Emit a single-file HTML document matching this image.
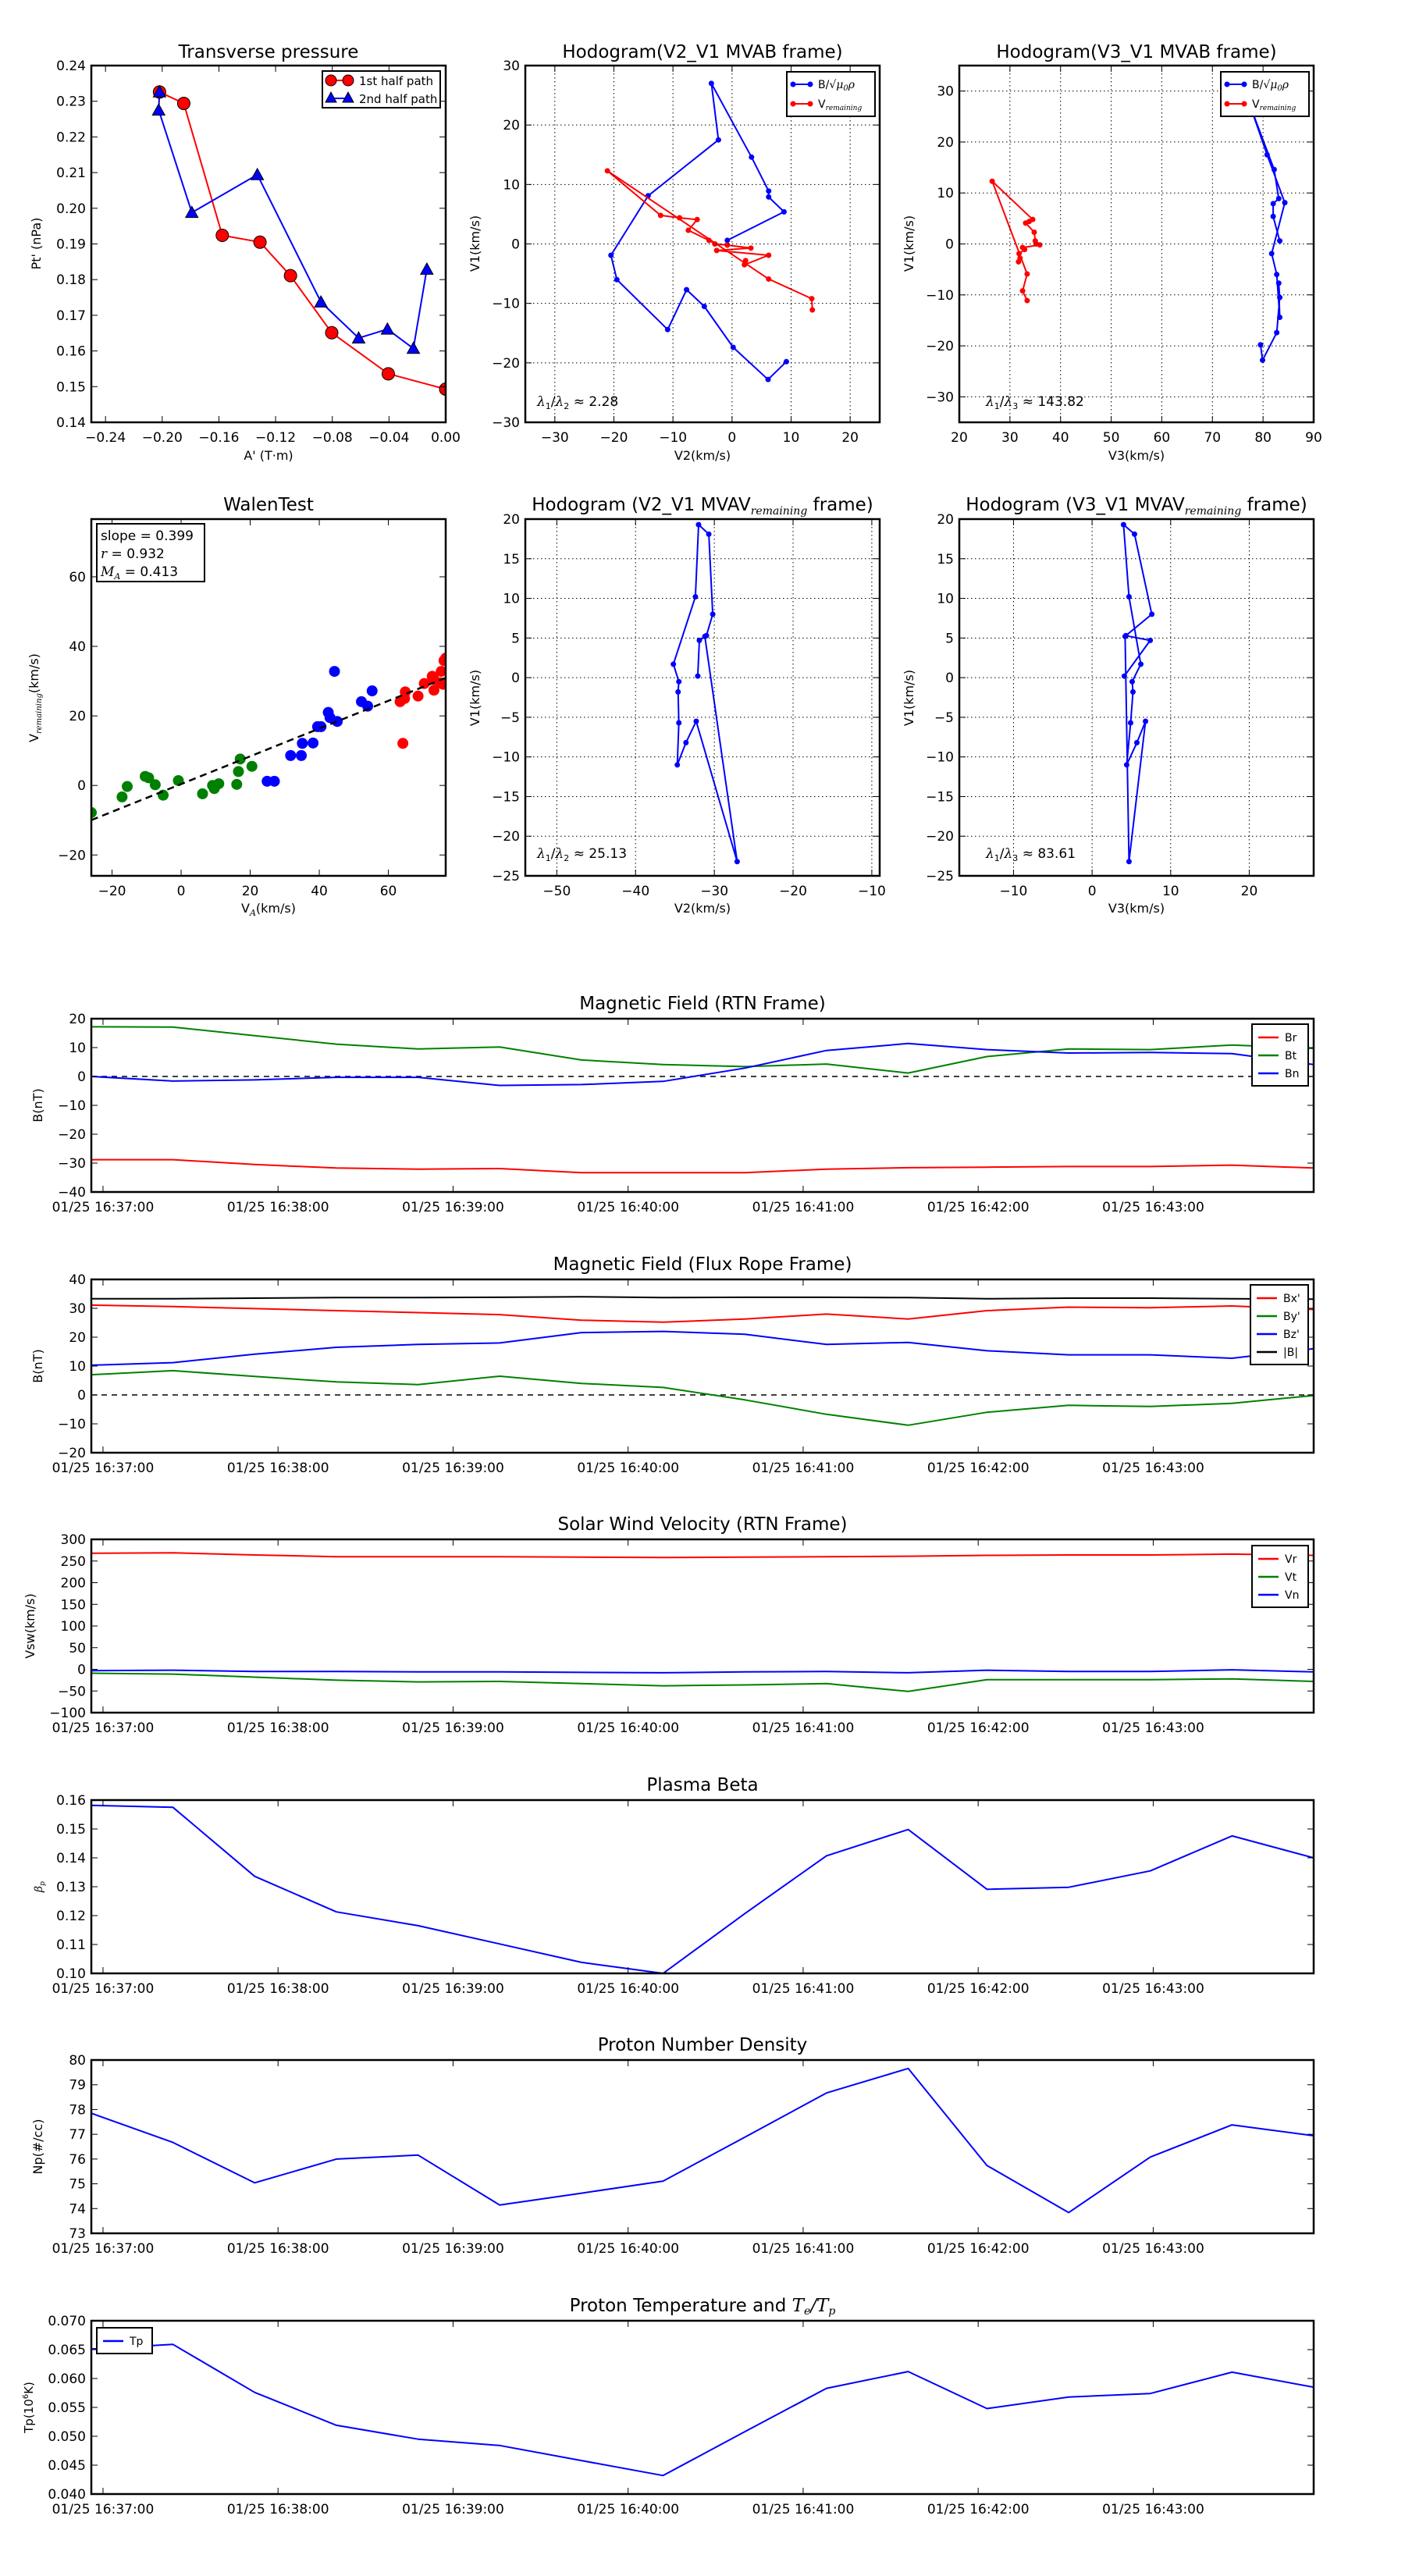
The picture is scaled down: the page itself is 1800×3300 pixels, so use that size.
<!DOCTYPE html>
<html><head><meta charset="utf-8"><style>
html,body{margin:0;padding:0;background:#fff;}
svg{display:block;}
text{font-family:"DejaVu Sans","Liberation Sans",sans-serif;}
</style></head>
<body>
<svg id="fig" xmlns="http://www.w3.org/2000/svg" width="1800" height="3300" viewBox="0 0 1800 3300"></svg>
<script>
// ---------- data ----------
const tpRedA = [-0.2019,-0.1848,-0.1576,-0.131,-0.1095,-0.0804,-0.0405,0];
const tpRedP = [0.2326,0.2294,0.1924,0.1905,0.1811,0.1651,0.1536,0.1493];
const tpBlueA = [-0.2019,-0.2025,-0.1791,-0.1329,-0.088,-0.0614,-0.0411,-0.0228,-0.0133];
const tpBlueP = [0.2326,0.2275,0.1988,0.2094,0.1737,0.1636,0.1661,0.1607,0.1829];

const h1BV2 = [-0.8,8.8,6.2,6.2,3.3,-3.5,-2.3,-14.2,-20.5,-19.5,-10.9,-7.7,-4.7,0.2,6.1,9.2];
const h1BV1 = [0.6,5.4,7.9,8.9,14.6,27,17.5,8.1,-1.9,-6,-14.4,-7.7,-10.5,-17.4,-22.8,-19.8];
const h1RV2 = [13.6,13.5,6.2,-21.1,-12.1,-8.9,-5.9,-7.4,-3.9,-2.9,-0.8,3.2,-2.6,6.2,2.1,2.3];
const h1RV1 = [-11.1,-9.2,-5.9,12.3,4.8,4.4,4.1,2.3,0.6,0,-0.2,-0.7,-1.1,-1.9,-3.5,-2.8];

const h2BV3 = [83.3,82,82,83.1,82.2,77.5,80.8,84.3,81.7,82.7,83.3,83.1,83.3,82.7,79.9,79.5];
const h2BV1 = [0.6,5.4,7.9,8.9,14.6,27,17.5,8.1,-1.9,-6,-14.4,-7.7,-10.5,-17.4,-22.8,-19.8];
const h2RV3 = [33.4,32.5,33.4,26.5,34.5,33.8,33.1,34.8,35,35.2,35.9,32.5,32.9,31.8,31.7,32.0];
const h2RV1 = [-11.1,-9.2,-5.9,12.3,4.8,4.4,4.1,2.3,0.6,0,-0.2,-0.7,-1.1,-1.9,-3.5,-2.8];

const h3V2 = [-32.1,-31.9,-31,-30.2,-30.7,-32,-32.4,-35.2,-34.5,-34.6,-34.5,-34.7,-33.6,-32.3,-27.1,-31.2];
const h3V1 = [0.2,4.7,5.3,8,18.1,19.3,10.2,1.7,-0.5,-1.8,-5.7,-11,-8.2,-5.5,-23.2,5.2];
const h4V3 = [4.1,7.4,4.3,7.6,5.4,4,4.7,6.2,5.1,5.2,4.9,4.4,5.7,6.8,4.7,4.2];
const h4V1 = [0.2,4.7,5.3,8,18.1,19.3,10.2,1.7,-0.5,-1.8,-5.7,-11,-8.2,-5.5,-23.2,5.2];

const walGreenX = [-26,-17.1,-15.6,-10.4,-9.4,-7.5,-5.2,-0.8,6.2,9.1,9.6,10.9,16.1,16.6,17.1,20.5];
const walGreenY = [-7.8,-3.3,-0.3,2.6,2.2,0.2,-2.8,1.4,-2.4,0,-0.9,0.5,0.3,4,7.6,5.5];
const walBlueX = [24.9,27,31.7,34.8,35.1,38.2,39.5,40.5,42.6,43.1,44.4,45.2,52.2,54,55.3];
const walBlueY = [1.2,1.2,8.6,8.6,12.1,12.2,16.9,16.9,21,19.5,32.8,18.4,24.1,22.8,27.2];
const walRedX = [63.4,64.2,64.7,64.9,68.6,70.4,72.7,73.2,73.2,75.1,75.3,75.8,76.1,76.6];
const walRedY = [24.1,12.1,25,26.9,25.7,29.3,31.4,27.4,30.5,29.5,32.8,29.1,35.9,36.6];
const walSlope = 0.399;
const walIntercept = 0.4;

// seconds relative to 01/25 16:37:00
const times = [-4,24,52,80,108,136,164,192,220,248,276,303,331,359,387,415];
const timeTicks = [0,60,120,180,240,300,360];
const timeTickLabels = ["01/25 16:37:00","01/25 16:38:00","01/25 16:39:00","01/25 16:40:00","01/25 16:41:00","01/25 16:42:00","01/25 16:43:00"];

const Br = [-28.8,-28.8,-30.5,-31.7,-32.1,-31.9,-33.3,-33.3,-33.3,-32.1,-31.6,-31.4,-31.2,-31.2,-30.7,-31.7];
const Bt = [17.2,17.1,14.1,11.2,9.5,10.2,5.7,4.1,3.4,4.3,1.2,6.9,9.5,9.3,10.9,9.7];
const Bn = [0,-1.6,-1.2,-0.3,-0.3,-3.1,-2.8,-1.7,2.9,9,11.4,9.3,8.1,8.3,7.9,4.1];

const Bx1 = [31.1,30.6,29.9,29.2,28.5,27.8,25.9,25.2,26.3,28,26.3,29.2,30.4,30.2,30.8,29.6];
const By1 = [7,8.4,6.4,4.5,3.6,6.5,4,2.6,-1.7,-6.7,-10.5,-6,-3.6,-4,-2.9,-0.2];
const Bz1 = [10.3,11.2,14.1,16.5,17.5,18,21.6,22,21,17.5,18.2,15.3,13.9,13.9,12.7,16];
const Bmag = [33.3,33.3,33.5,33.7,33.7,33.8,34,33.7,33.8,33.8,33.7,33.3,33.5,33.5,33.3,33.2];

const Vr = [268,269,264,260,260,260,259,258,259,260,261,263,264,264,266,263];
const Vt = [-9,-11,-18,-25,-29,-28,-33,-38,-36,-33,-51,-24,-24,-24,-22,-28];
const Vn = [-3,-2,-5,-5,-6,-6,-7,-8,-6,-5,-8,-2,-5,-5,-1,-6];

const beta = [0.1582,0.1575,0.1336,0.1213,0.1165,0.1102,0.1038,0.1,0.1207,0.1407,0.1498,0.1291,0.1298,0.1355,0.1476,0.1400];
const Np = [77.85,76.67,75.04,76,76.16,74.14,74.62,75.11,76.88,78.67,79.66,75.74,73.84,76.08,77.38,76.94];
const Tp = [0.0651,0.0659,0.0576,0.0519,0.0495,0.0484,0.0458,0.0432,0.0508,0.0583,0.0612,0.0548,0.0568,0.0574,0.0611,0.0585];

// ---------- helpers ----------
const NS = "http://www.w3.org/2000/svg";
const root = document.getElementById('fig');
let clipId = 0;
function mk(tag, attrs, parent, name) {
  const e = document.createElementNS(NS, tag);
  for (const k in attrs) e.setAttribute(k, attrs[k]);
  
  
  (parent || root).appendChild(e);
  return e;
}
function txt(s, x, y, size, anchor, parent, name, extra) {
  const a = Object.assign({x:x, y:y, 'font-size':size, 'text-anchor':anchor||'middle', fill:'#000'}, extra||{});
  const t = mk('text', a, parent, name);
  t.textContent = s;
  return t;
}
function fmtMinus(s){ return String(s).replace('-', '\u2212'); }

function axes(name, box, xlim, ylim, xticks, yticks, xlabels, ylabels, grid) {
  const g = mk('g', {}, root, name);
  const sx = v => box.x + (v - xlim[0]) / (xlim[1] - xlim[0]) * box.w;
  const sy = v => box.y + box.h - (v - ylim[0]) / (ylim[1] - ylim[0]) * box.h;
  clipId++;
  const cp = mk('clipPath', {id:'c'+clipId}, g, name + '-clip');
  mk('rect', {x:box.x, y:box.y, width:box.w, height:box.h}, cp, name + '-clip-rect');
  const data = mk('g', {'clip-path':'url(#c'+clipId+')'}, g, name + '-plot-area');
  const tk = mk('g', {stroke:'#000','stroke-width':1}, g, name + '-ticks');
  xticks.forEach((v, i) => {
    const x = sx(v);
    if (grid) mk('line', {x1:x, x2:x, y1:box.y, y2:box.y+box.h, stroke:'#000','stroke-width':1,'stroke-dasharray':'1.5,3.5'}, tk, name + '-xgrid');
    mk('line', {x1:x, x2:x, y1:box.y+box.h, y2:box.y+box.h-8}, tk, name + '-xtick');
    mk('line', {x1:x, x2:x, y1:box.y, y2:box.y+8}, tk, name + '-xtick-top');
    txt(xlabels[i], x, box.y + box.h + 25, 17, 'middle', g, name + '-xtick-label', {});
  });
  yticks.forEach((v, i) => {
    const y = sy(v);
    if (grid) mk('line', {x1:box.x, x2:box.x+box.w, y1:y, y2:y, stroke:'#000','stroke-width':1,'stroke-dasharray':'1.5,3.5'}, tk, name + '-ygrid');
    mk('line', {x1:box.x, x2:box.x+8, y1:y, y2:y}, tk, name + '-ytick');
    mk('line', {x1:box.x+box.w, x2:box.x+box.w-8, y1:y, y2:y}, tk, name + '-ytick-right');
    txt(ylabels[i], box.x - 7, y + 6, 17, 'end', g, name + '-ytick-label', {});
  });
  return {g, data, sx, sy, box, name};
}
function frame(ax) {
  mk('rect', {x:ax.box.x, y:ax.box.y, width:ax.box.w, height:ax.box.h, fill:'none', stroke:'#000','stroke-width':2.5}, ax.g, ax.name + '-frame');
}
function line(ax, xs, ys, color, name, w, dash) {
  const pts = xs.map((x, i) => ax.sx(x).toFixed(1) + ',' + ax.sy(ys[i]).toFixed(1)).join(' ');
  const a = {points:pts, fill:'none', stroke:color, 'stroke-width':w||2, 'stroke-linejoin':'round'};
  if (dash) a['stroke-dasharray'] = dash;
  return mk('polyline', a, ax.data, name);
}
function dots(ax, xs, ys, color, r, name, stroke) {
  xs.forEach((x, i) => {
    const a = {cx:ax.sx(x), cy:ax.sy(ys[i]), r:r, fill:color};
    if (stroke) { a.stroke = '#000'; a['stroke-width'] = 1; }
    mk('circle', a, ax.data, name);
  });
}
function tris(ax, xs, ys, color, s, name) {
  xs.forEach((x, i) => {
    const cx = ax.sx(x), cy = ax.sy(ys[i]);
    mk('polygon', {points:`${cx},${cy-s} ${cx-s},${cy+s*0.8} ${cx+s},${cy+s*0.8}`, fill:color, stroke:'#000','stroke-width':1}, ax.data, name);
  });
}
function title(s, x, y, name) { return txt(s, x, y, 23, 'middle', root, name, {}); }
function ylab(s, x, y, name) {
  const t = txt(s, x, y, 16, 'middle', root, name, {transform:`rotate(-90 ${x} ${y})`});
  return t;
}
function range(a, b, st) { const r = []; for (let v = a; v <= b + 1e-9; v += st) r.push(+v.toFixed(6)); return r; }
function labs(arr, d) { return arr.map(v => fmtMinus(v.toFixed(d))); }

// ---------- Transverse pressure ----------
(function(){
  const xt = range(-0.24, 0, 0.04), yt = range(0.14, 0.24, 0.01);
  const ax = axes('transverse-pressure-chart', {x:117,y:84,w:454,h:457}, [-0.25,0], [0.14,0.24], xt, yt, labs(xt,2), labs(yt,2), false);
  line(ax, tpRedA, tpRedP, '#ff0000', 'first-half-path-line', 2);
  line(ax, tpBlueA, tpBlueP, '#0000ff', 'second-half-path-line', 2);
  dots(ax, tpRedA, tpRedP, '#ff0000', 8, 'first-half-path-marker', true);
  tris(ax, tpBlueA, tpBlueP, '#0000ff', 8, 'second-half-path-marker');
  frame(ax);
  title('Transverse pressure', 344, 74, 'transverse-pressure-title');
  txt("A' (T\u00b7m)", 344, 589, 16, 'middle', root, 'transverse-x-axis-title', {});
  ylab("Pt' (nPa)", 52, 312, 'transverse-y-axis-title');
  const lg = mk('g', {}, root, 'transverse-legend');
  mk('rect', {x:413,y:91,width:151,height:47,fill:'#fff',stroke:'#000','stroke-width':2}, lg, 'legend-box');
  mk('line', {x1:424,x2:446,y1:103,y2:103,stroke:'#f00','stroke-width':2}, lg, 'legend-line-red');
  mk('circle', {cx:424,cy:103,r:7,fill:'#f00',stroke:'#000'}, lg, 'legend-marker-red');
  mk('circle', {cx:446,cy:103,r:7,fill:'#f00',stroke:'#000'}, lg, 'legend-marker-red');
  txt('1st half path', 460, 109, 15, 'start', lg, 'legend-entry-first-half', {});
  mk('line', {x1:424,x2:446,y1:126,y2:126,stroke:'#00f','stroke-width':2}, lg, 'legend-line-blue');
  mk('polygon', {points:'424,118 417,131 431,131',fill:'#00f',stroke:'#000'}, lg, 'legend-marker-blue');
  mk('polygon', {points:'446,118 439,131 453,131',fill:'#00f',stroke:'#000'}, lg, 'legend-marker-blue');
  txt('2nd half path', 460, 132, 15, 'start', lg, 'legend-entry-second-half', {});
})();

function hodoLegend(x, y, name, bLabel) {
  const lg = mk('g', {}, root, name);
  mk('rect', {x:x,y:y,width:113,height:57,fill:'#fff',stroke:'#000','stroke-width':2}, lg, 'legend-box');
  mk('line', {x1:x+8,x2:x+30,y1:y+16,y2:y+16,stroke:'#00f','stroke-width':2}, lg, 'legend-line-blue');
  mk('circle', {cx:x+8,cy:y+16,r:3.5,fill:'#00f'}, lg, 'legend-dot');
  mk('circle', {cx:x+30,cy:y+16,r:3.5,fill:'#00f'}, lg, 'legend-dot');
  const t1 = txt('', x+40, y+21, 14, 'start', lg, 'legend-entry-b-alfven', {});
  t1.innerHTML = 'B/\u221a<tspan font-style="italic" font-family="DejaVu Serif">\u03bc<tspan font-size="10" dy="3">0</tspan><tspan dy="-3">\u03c1</tspan></tspan>';
  mk('line', {x1:x+8,x2:x+30,y1:y+41,y2:y+41,stroke:'#f00','stroke-width':2}, lg, 'legend-line-red');
  mk('circle', {cx:x+8,cy:y+41,r:3.5,fill:'#f00'}, lg, 'legend-dot');
  mk('circle', {cx:x+30,cy:y+41,r:3.5,fill:'#f00'}, lg, 'legend-dot');
  const t2 = txt('', x+40, y+46, 14, 'start', lg, 'legend-entry-v-remaining', {});
  t2.innerHTML = 'V<tspan font-size="9" dy="3" font-style="italic" font-family="DejaVu Serif">remaining</tspan>';
}
function ratioText(x, y, sub2, val, name) {
  const t = txt('', x, y, 17, 'start', root, name, {});
  t.innerHTML = '<tspan font-style="italic" font-family="DejaVu Serif">\u03bb</tspan><tspan font-size="11" dy="4">1</tspan><tspan dy="-4">/</tspan><tspan font-style="italic" font-family="DejaVu Serif">\u03bb</tspan><tspan font-size="11" dy="4">' + sub2 + '</tspan><tspan dy="-4"> \u2248 ' + val + '</tspan>';
}
function subTitle(x, y, pre, name) {
  const t = txt('', x, y, 23, 'middle', root, name, {});
  t.innerHTML = pre + '<tspan font-size="14" dy="5" font-style="italic" font-family="DejaVu Serif">remaining</tspan><tspan dy="-5"> frame)</tspan>';
}

// ---------- Hodogram V2-V1 MVAB ----------
(function(){
  const xt = range(-30, 20, 10), yt = range(-30, 30, 10);
  const ax = axes('hodogram-v2-v1-mvab', {x:673,y:84,w:454,h:457}, [-35,25], [-30,30], xt, yt, labs(xt,0), labs(yt,0), true);
  line(ax, h1BV2, h1BV1, '#0000ff', 'b-alfven-line', 2);
  dots(ax, h1BV2, h1BV1, '#0000ff', 3.5, 'b-alfven-point');
  line(ax, h1RV2, h1RV1, '#ff0000', 'v-remaining-line', 2);
  dots(ax, h1RV2, h1RV1, '#ff0000', 3.5, 'v-remaining-point');
  frame(ax);
  title('Hodogram(V2_V1 MVAB frame)', 900, 74, 'hodogram-mvab-v2-title');
  txt('V2(km/s)', 900, 589, 16, 'middle', root, 'hodogram-mvab-v2-x-title', {});
  ylab('V1(km/s)', 614, 312, 'hodogram-mvab-v2-y-title');
  hodoLegend(1008, 92, 'hodogram-mvab-v2-legend');
  ratioText(688, 520, '2', '2.28', 'eigen-ratio-label');
})();

// ---------- Hodogram V3-V1 MVAB ----------
(function(){
  const xt = range(20, 90, 10), yt = range(-30, 30, 10);
  const ax = axes('hodogram-v3-v1-mvab', {x:1229,y:84,w:454,h:457}, [20,90], [-35,35], xt, yt, labs(xt,0), labs(yt,0), true);
  line(ax, h2BV3, h2BV1, '#0000ff', 'b-alfven-line', 2);
  dots(ax, h2BV3, h2BV1, '#0000ff', 3.5, 'b-alfven-point');
  line(ax, h2RV3, h2RV1, '#ff0000', 'v-remaining-line', 2);
  dots(ax, h2RV3, h2RV1, '#ff0000', 3.5, 'v-remaining-point');
  frame(ax);
  title('Hodogram(V3_V1 MVAB frame)', 1456, 74, 'hodogram-mvab-v3-title');
  txt('V3(km/s)', 1456, 589, 16, 'middle', root, 'hodogram-mvab-v3-x-title', {});
  ylab('V1(km/s)', 1170, 312, 'hodogram-mvab-v3-y-title');
  hodoLegend(1564, 92, 'hodogram-mvab-v3-legend');
  ratioText(1263, 520, '3', '143.82', 'eigen-ratio-label');
})();

// ---------- Walen test ----------
(function(){
  const xt = range(-20, 60, 20), yt = range(-20, 60, 20);
  const ax = axes('walen-test-chart', {x:117,y:665,w:454,h:457}, [-26,76.6], [-26,76.6], xt, yt, labs(xt,0), labs(yt,0), false);
  dots(ax, walGreenX, walGreenY, '#008000', 7, 'walen-point-green');
  dots(ax, walBlueX, walBlueY, '#0000ff', 7, 'walen-point-blue');
  dots(ax, walRedX, walRedY, '#ff0000', 7, 'walen-point-red');
  const fx = [-26, 76.6];
  const fy = fx.map(v => walSlope * v + walIntercept);
  line(ax, fx, fy, '#000', 'walen-fit-line', 2.5, '9,6');
  frame(ax);
  title('WalenTest', 344, 654, 'walen-test-title');
  const xl = txt('', 344, 1169, 16, 'middle', root, 'walen-x-axis-title', {});
  xl.innerHTML = 'V<tspan font-size="11" dy="4" font-style="italic" font-family="DejaVu Serif">A</tspan><tspan dy="-4">(km/s)</tspan>';
  const yl = txt('', 49, 894, 16, 'middle', root, 'walen-y-axis-title', {transform:'rotate(-90 49 894)'});
  yl.innerHTML = 'V<tspan font-size="10" dy="4" font-style="italic" font-family="DejaVu Serif">remaining</tspan><tspan dy="-4">(km/s)</tspan>';
  const bx = mk('g', {}, root, 'walen-stats-box');
  mk('rect', {x:124,y:671,width:138,height:74,fill:'#fff',stroke:'#000','stroke-width':2}, bx, 'stats-box-frame');
  txt('slope = 0.399', 129, 692, 17, 'start', bx, 'slope-value', {});
  const r = txt('', 129, 715, 17, 'start', bx, 'correlation-value', {});
  r.innerHTML = '<tspan font-style="italic" font-family="DejaVu Serif">r</tspan> = 0.932';
  const m = txt('', 129, 738, 17, 'start', bx, 'mach-number-value', {});
  m.innerHTML = '<tspan font-style="italic" font-family="DejaVu Serif">M</tspan><tspan font-size="11" dy="4" font-style="italic" font-family="DejaVu Serif">A</tspan><tspan dy="-4"> = 0.413</tspan>';
})();

// ---------- Hodogram V2-V1 MVAV ----------
(function(){
  const xt = range(-50, -10, 10), yt = range(-25, 20, 5);
  const ax = axes('hodogram-v2-v1-mvav', {x:673,y:665,w:454,h:457}, [-54,-9], [-25,20], xt, yt, labs(xt,0), labs(yt,0), true);
  line(ax, h3V2, h3V1, '#0000ff', 'mvav-v2-line', 2);
  dots(ax, h3V2, h3V1, '#0000ff', 3.5, 'mvav-v2-point');
  frame(ax);
  subTitle(900, 654, 'Hodogram (V2_V1 MVAV', 'hodogram-mvav-v2-title');
  txt('V2(km/s)', 900, 1169, 16, 'middle', root, 'hodogram-mvav-v2-x-title', {});
  ylab('V1(km/s)', 614, 894, 'hodogram-mvav-v2-y-title');
  ratioText(688, 1099, '2', '25.13', 'eigen-ratio-label');
})();

// ---------- Hodogram V3-V1 MVAV ----------
(function(){
  const xt = range(-10, 20, 10), yt = range(-25, 20, 5);
  const ax = axes('hodogram-v3-v1-mvav', {x:1229,y:665,w:454,h:457}, [-16.9,28.2], [-25,20], xt, yt, labs(xt,0), labs(yt,0), true);
  line(ax, h4V3, h4V1, '#0000ff', 'mvav-v3-line', 2);
  dots(ax, h4V3, h4V1, '#0000ff', 3.5, 'mvav-v3-point');
  frame(ax);
  subTitle(1456, 654, 'Hodogram (V3_V1 MVAV', 'hodogram-mvav-v3-title');
  txt('V3(km/s)', 1456, 1169, 16, 'middle', root, 'hodogram-mvav-v3-x-title', {});
  ylab('V1(km/s)', 1170, 894, 'hodogram-mvav-v3-y-title');
  ratioText(1263, 1099, '3', '83.61', 'eigen-ratio-label');
})();

// ---------- time series ----------
function tsAxes(name, top, ylim, yt, dec) {
  return axes(name, {x:117,y:top,w:1566,h:222}, [times[0], times[times.length-1]], ylim, timeTicks, yt, timeTickLabels, labs(yt, dec), false);
}
function tsLegend(x, y, w, entries, name) {
  const lg = mk('g', {}, root, name);
  mk('rect', {x:x,y:y,width:w,height:entries.length*23+10,fill:'#fff',stroke:'#000','stroke-width':2}, lg, 'legend-box');
  entries.forEach((e, i) => {
    const yy = y + 17 + i*23;
    mk('line', {x1:x+8,x2:x+34,y1:yy,y2:yy,stroke:e[1],'stroke-width':2.5}, lg, 'legend-swatch');
    txt(e[0], x+42, yy+5, 14, 'start', lg, 'legend-entry', {});
  });
}
(function(){
  const top = 1305, yt = range(-40, 20, 10);
  const ax = tsAxes('magnetic-field-rtn-chart', top, [-40,20], yt, 0);
  line(ax, [times[0], times[15]], [0,0], '#000', 'zero-reference-line', 1.5, '7,6');
  line(ax, times, Br, '#ff0000', 'br-line');
  line(ax, times, Bt, '#008000', 'bt-line');
  line(ax, times, Bn, '#0000ff', 'bn-line');
  frame(ax);
  title('Magnetic Field (RTN Frame)', 900, top-12, 'magnetic-field-rtn-title');
  ylab('B(nT)', 54, top+111, 'magnetic-field-rtn-y-title');
  tsLegend(1604, 1312, 72, [['Br','#f00'],['Bt','#008000'],['Bn','#00f']], 'magnetic-field-rtn-legend');
})();
(function(){
  const top = 1639, yt = range(-20, 40, 10);
  const ax = tsAxes('magnetic-field-flux-rope-chart', top, [-20,40], yt, 0);
  line(ax, [times[0], times[15]], [0,0], '#000', 'zero-reference-line', 1.5, '7,6');
  line(ax, times, Bmag, '#000000', 'bmag-line');
  line(ax, times, Bx1, '#ff0000', 'bx-line');
  line(ax, times, By1, '#008000', 'by-line');
  line(ax, times, Bz1, '#0000ff', 'bz-line');
  frame(ax);
  title('Magnetic Field (Flux Rope Frame)', 900, top-12, 'magnetic-field-flux-rope-title');
  ylab('B(nT)', 54, top+111, 'magnetic-field-flux-rope-y-title');
  tsLegend(1602, 1646, 74, [["Bx'",'#f00'],["By'",'#008000'],["Bz'",'#00f'],['|B|','#000']], 'magnetic-field-flux-rope-legend');
})();
(function(){
  const top = 1972, yt = range(-100, 300, 50);
  const ax = tsAxes('solar-wind-velocity-chart', top, [-100,300], yt, 0);
  line(ax, times, Vr, '#ff0000', 'vr-line');
  line(ax, times, Vt, '#008000', 'vt-line');
  line(ax, times, Vn, '#0000ff', 'vn-line');
  frame(ax);
  title('Solar Wind Velocity (RTN Frame)', 900, top-12, 'solar-wind-velocity-title');
  ylab('Vsw(km/s)', 44, top+111, 'solar-wind-velocity-y-title');
  tsLegend(1604, 1980, 72, [['Vr','#f00'],['Vt','#008000'],['Vn','#00f']], 'solar-wind-velocity-legend');
})();
(function(){
  const top = 2306, yt = range(0.10, 0.16, 0.01);
  const ax = tsAxes('plasma-beta-chart', top, [0.10,0.16], yt, 2);
  line(ax, times, beta, '#0000ff', 'plasma-beta-line');
  frame(ax);
  title('Plasma Beta', 900, top-12, 'plasma-beta-title');
  const t = txt('', 54, top+111, 14, 'middle', root, 'plasma-beta-y-title', {transform:`rotate(-90 54 ${top+111})`});
  t.innerHTML = '<tspan font-style="italic" font-family="DejaVu Serif">\u03b2</tspan><tspan font-size="9" dy="3" font-style="italic" font-family="DejaVu Serif">p</tspan>';
})();
(function(){
  const top = 2639, yt = range(73, 80, 1);
  const ax = tsAxes('proton-density-chart', top, [73,80], yt, 0);
  line(ax, times, Np, '#0000ff', 'proton-density-line');
  frame(ax);
  title('Proton Number Density', 900, top-12, 'proton-density-title');
  ylab('Np(#/cc)', 54, top+111, 'proton-density-y-title');
})();
(function(){
  const top = 2973, yt = range(0.040, 0.070, 0.005);
  const ax = tsAxes('proton-temperature-chart', top, [0.040,0.070], yt, 3);
  line(ax, times, Tp, '#0000ff', 'proton-temperature-line');
  frame(ax);
  const t = txt('', 900, top-12, 23, 'middle', root, 'proton-temperature-title', {});
  t.innerHTML = 'Proton Temperature and <tspan font-style="italic" font-family="DejaVu Serif">T</tspan><tspan font-size="14" dy="4" font-style="italic" font-family="DejaVu Serif">e</tspan><tspan dy="-4" font-style="italic" font-family="DejaVu Serif">/T</tspan><tspan font-size="14" dy="4" font-style="italic" font-family="DejaVu Serif">p</tspan>';
  const yl = txt('', 42, top+111, 15, 'middle', root, 'proton-temperature-y-title', {transform:`rotate(-90 42 ${top+111})`});
  yl.innerHTML = 'Tp(10<tspan font-size="10" dy="-6">6</tspan><tspan dy="6">K)</tspan>';
  tsLegend(124, 2982, 71, [['Tp','#00f']], 'proton-temperature-legend');
})();
</script>
</body></html>
